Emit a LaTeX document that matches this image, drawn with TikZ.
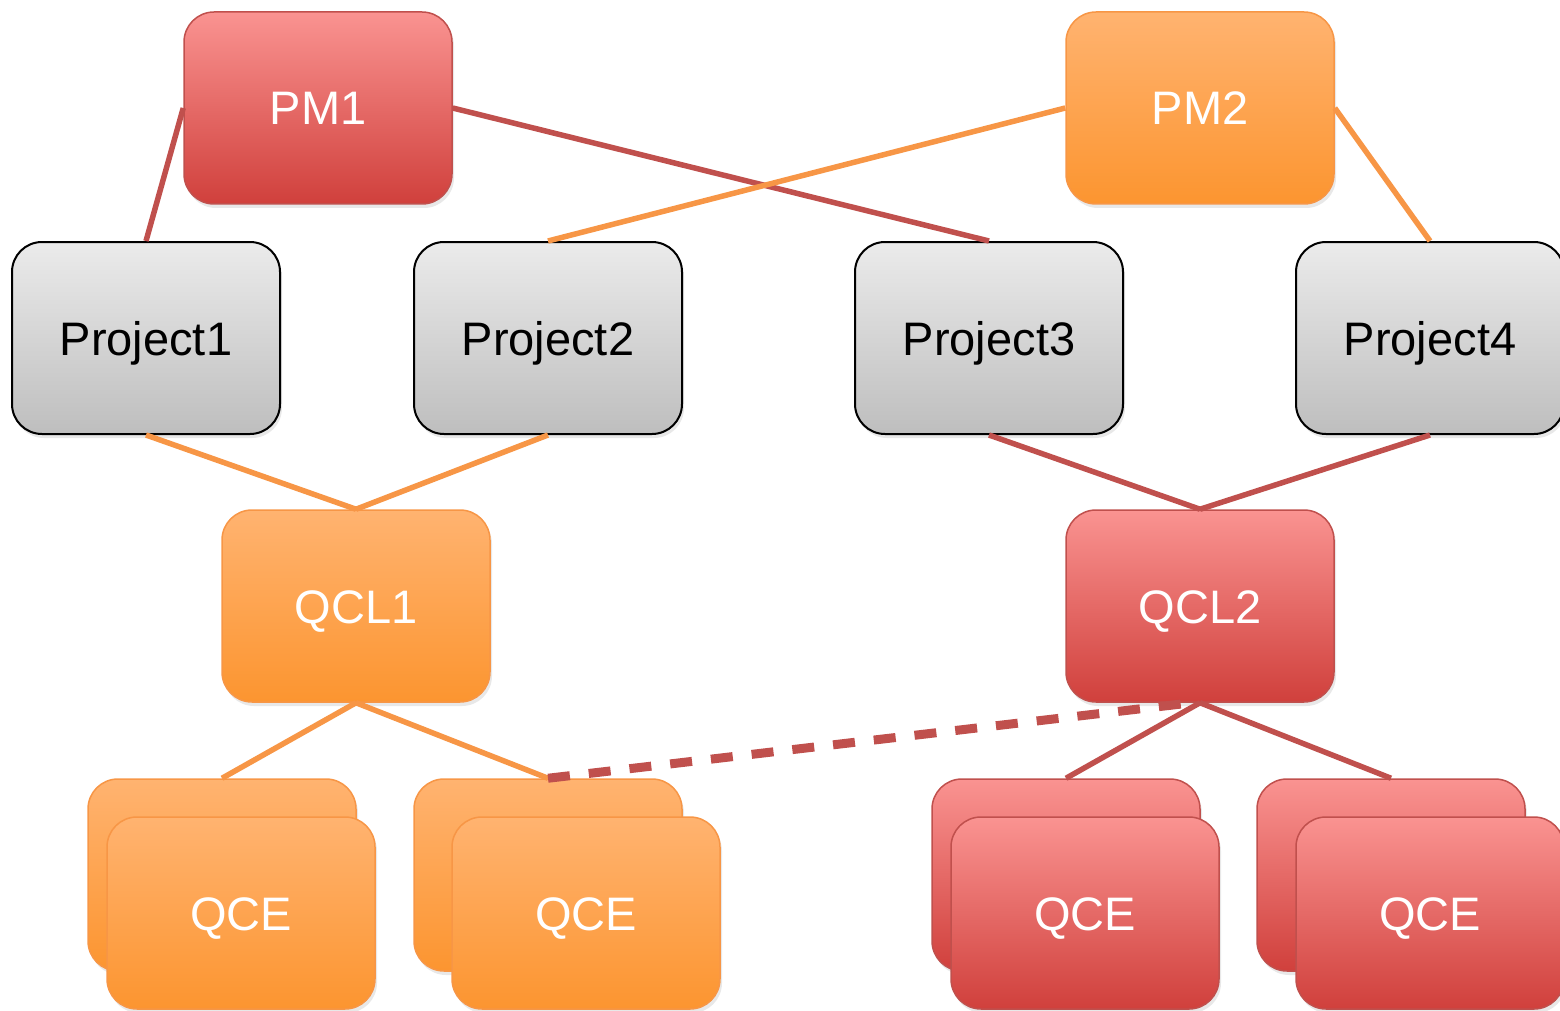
\documentclass[tikz,border=0pt]{standalone}
\usepackage{fontspec}
\setmainfont{Liberation Sans}
\usetikzlibrary{shadows}
\definecolor{redtop}{HTML}{FA9391}
\definecolor{redbot}{HTML}{D0403C}
\definecolor{redline}{HTML}{C0504D}
\definecolor{orgtop}{HTML}{FFB370}
\definecolor{orgbot}{HTML}{FC9530}
\definecolor{orgline}{HTML}{F79646}
\definecolor{grytop}{HTML}{EBEBEB}
\definecolor{grybot}{HTML}{BEBEBE}
\tikzset{
  box/.style={rounded corners=30pt, minimum width=268pt, minimum height=192pt,
    inner sep=0pt, line width=1.5pt, font=\fontsize{47}{56}\selectfont,
    text height=34pt, text depth=0pt,
    drop shadow={opacity=0.18, shadow xshift=2pt, shadow yshift=-4pt}},
  redbox/.style={box, draw=redline, top color=redtop, bottom color=redbot, text=white},
  orgbox/.style={box, draw=orgline, top color=orgtop, bottom color=orgbot, text=white},
  grybox/.style={box, draw=black, line width=2pt, top color=grytop, bottom color=grybot, text=black},
  redlink/.style={draw=redline, line width=5.5pt},
  orglink/.style={draw=orgline, line width=5.5pt},
  dashlink/.style={draw=redline, line width=9pt, dash pattern=on 22pt off 19pt}
}
\begin{document}
\begin{tikzpicture}[x=1pt, y=-1pt]
\useasboundingbox (0,0) rectangle (1560,1011);
% top row
\node[redbox] (pm1) at (318,108) {PM1};
\node[orgbox] (pm2) at (1200,108) {PM2};
% projects
\node[grybox] (p1) at (146,338) {Project1};
\node[grybox] (p2) at (548,338) {Project2};
\node[grybox] (p3) at (989,338) {Project3};
\node[grybox] (p4) at (1430,338) {Project4};
% QCL
\node[orgbox] (qcl1) at (356,606) {QCL1};
\node[redbox] (qcl2) at (1200,606) {QCL2};
% QCE stacks
\node[orgbox] (qe1b) at (222,875) {};
\node[orgbox] (qe1) at (241,913) {QCE};
\node[orgbox] (qe2b) at (548,875) {};
\node[orgbox] (qe2) at (586,913) {QCE};
\node[redbox] (qe3b) at (1066,875) {};
\node[redbox] (qe3) at (1085,913) {QCE};
\node[redbox] (qe4b) at (1391,875) {};
\node[redbox] (qe4) at (1430,913) {QCE};
% connectors
\draw[redlink] (pm1.west) -- (p1.north);
\draw[redlink] (pm1.east) -- (p3.north);
\draw[orglink] (pm2.west) -- (p2.north);
\draw[orglink] (pm2.east) -- (p4.north);
\draw[orglink] (p1.south) -- (qcl1.north);
\draw[orglink] (p2.south) -- (qcl1.north);
\draw[redlink] (p3.south) -- (qcl2.north);
\draw[redlink] (p4.south) -- (qcl2.north);
\draw[orglink] (qcl1.south) -- (qe1b.north);
\draw[orglink] (qcl1.south) -- (qe2b.north);
\draw[redlink] (qcl2.south) -- (qe3b.north);
\draw[redlink] (qcl2.south) -- (qe4b.north);
\draw[dashlink] (qe2b.north) -- ([xshift=-8pt]qcl2.south);
\end{tikzpicture}
\end{document}
